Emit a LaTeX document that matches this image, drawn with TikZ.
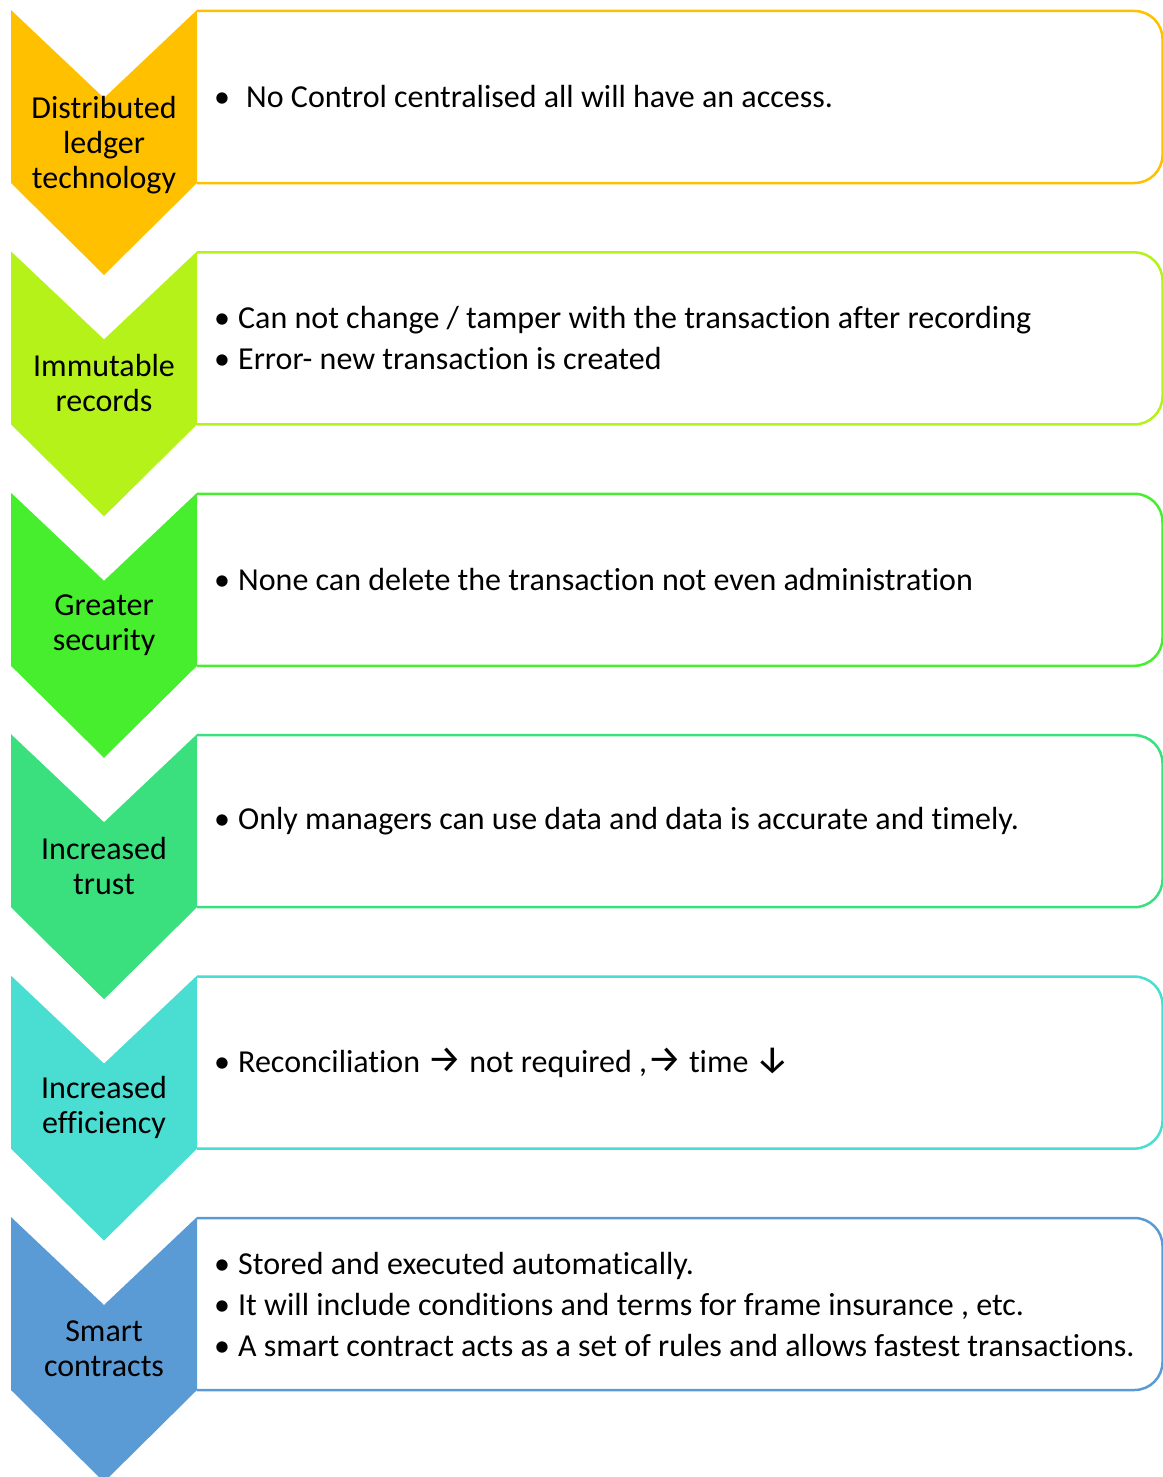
\documentclass[tikz,border=0pt]{standalone}
\usepackage{fontspec}
\setmainfont[Ligatures={NoCommon,NoContextual,NoRequired}, Contextuals=NoAlternate, RawFeature={-ccmp}]{Carlito}
\newfontfamily\arrowfont[Scale=1.2]{Fira Sans}
\usepackage{tikz}
\definecolor{ledgercol}{HTML}{FFC000}
\definecolor{immutcol}{HTML}{B4F21A}
\definecolor{securecol}{HTML}{47EE2D}
\definecolor{trustcol}{HTML}{3BE07E}
\definecolor{efficcol}{HTML}{4ADDD2}
\definecolor{smartcol}{HTML}{5B9BD5}
\newcommand{\itm}[1]{\makebox[24pt][l]{\textbullet}#1}

\begin{document}
\begin{tikzpicture}[x=1pt,y=-1pt]
      \tikzstyle{chevtext} = [align=center, font=\fontsize{32}{35}\selectfont, inner sep=0pt]
      \tikzstyle{bullets} = [anchor=west, align=left, font=\fontsize{32}{41}\selectfont, inner sep=0pt]
      \tikzstyle{rowbox} = [line width=2.5pt, rounded corners=28pt]

      \useasboundingbox (0,0) rectangle (1162,1477);

      % boxes
      \draw [rowbox, draw=ledgercol] (197,11) -- (1162.5,11) -- (1162.5,183) -- (197,183);
      \draw [rowbox, draw=immutcol] (197,252.4) -- (1162.5,252.4) -- (1162.5,424.4) -- (197,424.4);
      \draw [rowbox, draw=securecol] (197,493.8) -- (1162.5,493.8) -- (1162.5,665.8) -- (197,665.8);
      \draw [rowbox, draw=trustcol] (197,735.2) -- (1162.5,735.2) -- (1162.5,907.2) -- (197,907.2);
      \draw [rowbox, draw=efficcol] (197,976.6) -- (1162.5,976.6) -- (1162.5,1148.6) -- (197,1148.6);
      \draw [rowbox, draw=smartcol] (197,1218) -- (1162.5,1218) -- (1162.5,1390) -- (197,1390);

      % chevrons
      \fill [ledgercol] (11,10) -- (104,98) -- (197,10) -- (197,183) -- (104,275) -- (11,183) -- cycle;
      \fill [immutcol] (11,251.4) -- (104,339.4) -- (197,251.4) -- (197,424.4) -- (104,516.4) -- (11,424.4) -- cycle;
      \fill [securecol] (11,492.8) -- (104,580.8) -- (197,492.8) -- (197,665.8) -- (104,757.8) -- (11,665.8) -- cycle;
      \fill [trustcol] (11,734.2) -- (104,822.2) -- (197,734.2) -- (197,907.2) -- (104,999.2) -- (11,907.2) -- cycle;
      \fill [efficcol] (11,975.6) -- (104,1063.6) -- (197,975.6) -- (197,1148.6) -- (104,1240.6) -- (11,1148.6) -- cycle;
      \fill [smartcol] (11,1217) -- (104,1305) -- (197,1217) -- (197,1390) -- (104,1482) -- (11,1390) -- cycle;

      \node (dlt) [chevtext] at (104,145) {Distributed\\ledger\\technology};
      \node (immut) [chevtext] at (104,383.4) {Immutable\\records};
      \node (secure) [chevtext] at (104,624.8) {Greater\\security};
      \node (trust) [chevtext] at (104,866.2) {Increased\\trust};
      \node (effic) [chevtext] at (104,1107.6) {Increased\\efficiency};
      \node (smart) [chevtext] at (104,1349) {Smart\\contracts};

      \node (dlt-txt) [bullets] at (214,97) {\makebox[32pt][l]{\textbullet}No Control centralised all will have an access.};
      \node (immut-txt) [bullets] at (214,338.4) {\itm{Can not change / tamper with the transaction after recording}\\\itm{Error- new transaction is created}};
      \node (secure-txt) [bullets] at (214,579.8) {\itm{None can delete the transaction not even administration}};
      \node (trust-txt) [bullets] at (214,821.2) {\itm{Only managers can use data and data is accurate and timely.}};
      \node (effic-txt) [bullets] at (214,1062.6) {\itm{Reconciliation {\arrowfont →} not required ,{\arrowfont →} time {\arrowfont ↓}}};
      \node (smart-txt) [bullets] at (214,1304) {\itm{Stored and executed automatically.}\\\itm{It will include conditions and terms for frame insurance , etc.}\\\itm{A smart contract acts as a set of rules and allows fastest transactions.}};

\end{tikzpicture}
\end{document}
